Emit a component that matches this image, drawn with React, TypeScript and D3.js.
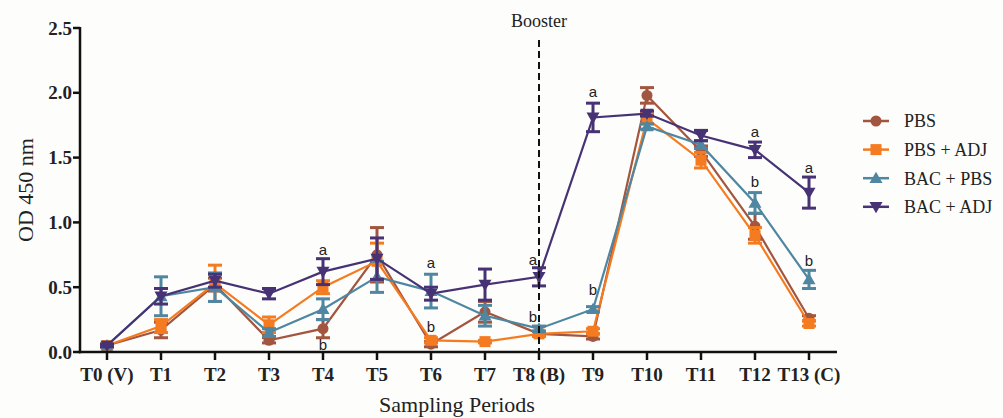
import React from 'react'
import * as d3 from 'd3'

const periods = ['T0 (V)', 'T1', 'T2', 'T3', 'T4', 'T5', 'T6', 'T7', 'T8 (B)', 'T9', 'T10', 'T11', 'T12', 'T13 (C)']
const yTicks = [0, 0.5, 1.0, 1.5, 2.0, 2.5]

const seriesNames = ['PBS', 'PBS + ADJ', 'BAC + PBS', 'BAC + ADJ']
const seriesColors = ['#a2553f', '#f47b20', '#4f86a1', '#463274']
const seriesSymbols = ['circle', 'square', 'up', 'down']

const pbs = [0.05, 0.17, 0.52, 0.09, 0.18, 0.75, 0.06, 0.31, 0.14, 0.12, 1.98, 1.55, 0.97, 0.26]
const pbsErr = [0.01, 0.06, 0.05, 0.02, 0.07, 0.21, 0.02, 0.08, 0.02, 0.02, 0.06, 0.04, 0.1, 0.02]
const pbsAdj = [0.05, 0.2, 0.53, 0.21, 0.5, 0.7, 0.09, 0.08, 0.14, 0.16, 1.8, 1.48, 0.9, 0.22]
const pbsAdjErr = [0.01, 0.05, 0.14, 0.06, 0.05, 0.14, 0.02, 0.01, 0.02, 0.02, 0.04, 0.06, 0.06, 0.02]
const bacPbs = [0.05, 0.43, 0.5, 0.15, 0.33, 0.58, 0.47, 0.28, 0.18, 0.33, 1.74, 1.6, 1.15, 0.56]
const bacPbsErr = [0.01, 0.15, 0.11, 0.03, 0.08, 0.12, 0.13, 0.08, 0.02, 0.02, 0.02, 0.03, 0.08, 0.07]
const bacAdj = [0.05, 0.43, 0.55, 0.45, 0.62, 0.72, 0.45, 0.52, 0.58, 1.81, 1.84, 1.67, 1.56, 1.23]
const bacAdjErr = [0.01, 0.06, 0.05, 0.04, 0.1, 0.16, 0.05, 0.12, 0.07, 0.11, 0.02, 0.04, 0.06, 0.12]

const seriesValues = [pbs, pbsAdj, bacPbs, bacAdj]
const seriesErrors = [pbsErr, pbsAdjErr, bacPbsErr, bacAdjErr]

// significance letters: period, letter, value where the letter sits
const sigPeriods = ['T4', 'T4', 'T6', 'T6', 'T8 (B)', 'T8 (B)', 'T9', 'T9', 'T12', 'T12', 'T13 (C)', 'T13 (C)']
const sigLetters = ['a', 'b', 'a', 'b', 'a', 'b', 'a', 'b', 'a', 'b', 'a', 'b']
const sigValues = [0.75, 0.015, 0.65, 0.155, 0.67, 0.235, 1.97, 0.44, 1.66, 1.27, 1.38, 0.66]

const serif = '"Liberation Serif", "Times New Roman", serif'

function Marker({ kind, x, y, color }: { kind: string, x: number, y: number, color: string }) {
  if (kind === 'circle') return <circle cx={x} cy={y} r={5.5} fill={color} />
  if (kind === 'square') return <rect x={x - 5.5} y={y - 5.5} width={11} height={11} fill={color} />
  const s = 6.5
  const pts = kind === 'up'
    ? [[x, y - s], [x + s, y + s * 0.75], [x - s, y + s * 0.75]]
    : [[x, y + s], [x + s, y - s * 0.75], [x - s, y - s * 0.75]]
  return <polygon points={pts.map(p => p.join(',')).join(' ')} fill={color} />
}

export default function App() {
  const width = 1003
  const height = 418

  const x = d3.scalePoint().domain(periods).range([107, 809])
  const y = d3.scaleLinear().domain([0, 2.5]).range([352, 28])

  const line = d3.line<number>()
    .x((d, i) => x(periods[i]) as number)
    .y(d => y(d))

  const xAxisStart = 80
  const xAxisEnd = 837
  const boosterX = x('T8 (B)') as number

  return (
    <div style={{ position: 'absolute', left: 0, top: 0 }}>
      <svg width={width} height={height} style={{ display: 'block', background: '#fdfdfb' }}>
        {/* series */}
        {seriesValues.map((vals, si) => (
          <g key={seriesNames[si]}>
            <path d={line(vals) || ''} fill="none" stroke={seriesColors[si]} strokeWidth={2.2} />
            {vals.map((v, i) => {
              const cx = x(periods[i]) as number
              const e = seriesErrors[si][i]
              return (
                <g key={i} stroke={seriesColors[si]} strokeWidth={3}>
                  <line x1={cx} x2={cx} y1={y(v + e)} y2={y(v - e)} />
                  <line x1={cx - 7} x2={cx + 7} y1={y(v + e)} y2={y(v + e)} />
                  <line x1={cx - 7} x2={cx + 7} y1={y(v - e)} y2={y(v - e)} />
                </g>
              )
            })}
            {vals.map((v, i) => (
              <Marker key={'m' + i} kind={seriesSymbols[si]} x={x(periods[i]) as number} y={y(v)} color={seriesColors[si]} />
            ))}
          </g>
        ))}

        {/* significance letters */}
        {sigLetters.map((l, i) => (
          <text key={'s' + i} x={(x(sigPeriods[i]) as number) - (sigPeriods[i] === 'T8 (B)' ? 6 : 0)} y={y(sigValues[i])}
            textAnchor="middle" fontFamily="'Liberation Sans', Arial, sans-serif" fontSize={15} fill="#222">{l}</text>
        ))}

        {/* booster line */}
        <line x1={boosterX} x2={boosterX} y1={40} y2={y(0)} stroke="#111" strokeWidth={2} strokeDasharray="7,4" />
        <text x={boosterX} y={27} textAnchor="middle" fontFamily={serif} fontSize={18} fill="#222">Booster</text>

        {/* y axis */}
        <line x1={xAxisStart} x2={xAxisStart} y1={y(2.5) - 1} y2={y(0) + 1.2} stroke="#111" strokeWidth={2.5} />
        {yTicks.map(t => (
          <g key={t}>
            <line x1={xAxisStart - 7} x2={xAxisStart} y1={y(t)} y2={y(t)} stroke="#111" strokeWidth={2.5} />
            <text x={72} y={y(t)} dy="0.35em" textAnchor="end" fontFamily={serif} fontWeight="bold" fontSize={19} fill="#222">{t.toFixed(1)}</text>
          </g>
        ))}
        <text transform={`translate(33,${(y(0) + y(2.5)) / 2}) rotate(-90)`} textAnchor="middle" fontFamily={serif} fontSize={22} fill="#222">OD 450 nm</text>

        {/* x axis */}
        <line x1={xAxisStart - 1.2} x2={xAxisEnd} y1={y(0)} y2={y(0)} stroke="#111" strokeWidth={2.5} />
        {periods.map(p => (
          <g key={p}>
            <line x1={x(p) as number} x2={x(p) as number} y1={y(0)} y2={y(0) + 8} stroke="#111" strokeWidth={2.5} />
            <text x={x(p) as number} y={381} textAnchor="middle" fontFamily={serif} fontWeight="bold" fontSize={19} fill="#222">{p}</text>
          </g>
        ))}
        <text x={457} y={412} textAnchor="middle" fontFamily={serif} fontSize={22} fill="#222">Sampling Periods</text>

        {/* legend */}
        {seriesNames.map((n, i) => {
          const ly = 121 + i * 28.6
          return (
            <g key={'l' + n}>
              <line x1={863} x2={889} y1={ly} y2={ly} stroke={seriesColors[i]} strokeWidth={2.5} />
              <Marker kind={seriesSymbols[i]} x={876} y={ly} color={seriesColors[i]} />
              <text x={904} y={ly} dy="0.35em" fontFamily={serif} fontSize={18} fill="#222">{n}</text>
            </g>
          )
        })}
      </svg>
    </div>
  )
}
